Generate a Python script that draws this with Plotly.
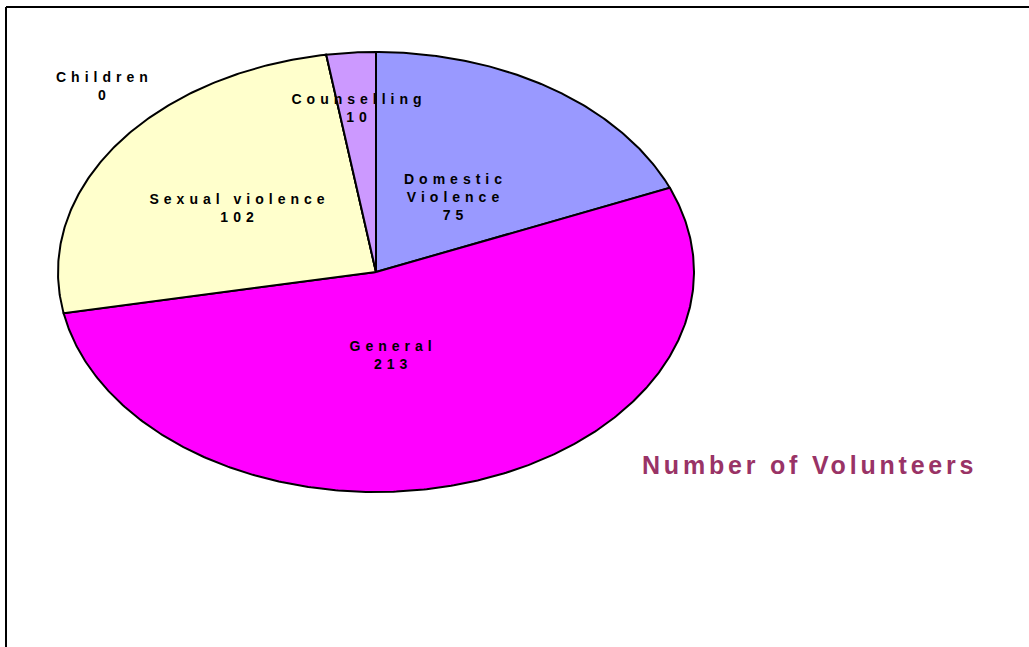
import numpy as np
import plotly.graph_objects as go

# ---- data ----
categories = ["Domestic Violence", "General", "Sexual violence", "Children", "Counselling"]
label_text = ["Domestic<br>Violence", "General", "Sexual violence", "Children", "Counselling"]
values = [75, 213, 102, 0, 10]
colors = ["#9999FF", "#FF00FF", "#FFFFCC", "#99CCFF", "#CC99FF"]
title_text = "Number of Volunteers"

# ---- layout constants (pixels) ----
W, H = 1029, 647
CX, CY = 376, 272      # pie centre
RX, RY = 318, 220      # pie radii (stretched pie)
# label anchor positions in unit-pie coordinates (x right, y up)
label_pos = [(0.25, 0.34), (0.055, -0.375), (-0.43, 0.29), (-0.855, 0.845), (-0.055, 0.745)]

fig = go.Figure()

total = sum(values)
start = 0.0
for name, v, c in zip(categories, values, colors):
    frac = v / total
    ang = np.linspace(start, start + frac, max(3, int(frac * 720) + 2)) * 2 * np.pi
    xs = np.concatenate([[0], np.sin(ang), [0]])
    ys = np.concatenate([[0], np.cos(ang), [0]])
    fig.add_trace(go.Scatter(
        x=xs, y=ys, mode="lines", fill="toself", fillcolor=c,
        line=dict(color="black", width=2), name=name, hoverinfo="name",
        showlegend=False))
    start += frac

for (lx, ly), t, v in zip(label_pos, label_text, values):
    fig.add_annotation(x=lx, y=ly, xref="x", yref="y",
                       text=f"{t}<br>{v}", showarrow=False,
                       font=dict(family="Liberation Sans, Arial", size=14, color="black", weight="bold"),
                       align="center", xanchor="center", yanchor="middle")

fig.add_annotation(x=809 / W, y=1 - 465 / H, xref="paper", yref="paper",
                   text=title_text, showarrow=False, xanchor="center", yanchor="middle",
                   font=dict(family="Liberation Sans, Arial", size=25, color="#993366", weight="bold"))

# frame lines (top and left)
fig.add_shape(type="line", xref="paper", yref="paper", x0=6 / W, x1=1, y0=1 - 7 / H, y1=1 - 7 / H,
              line=dict(color="black", width=2))
fig.add_shape(type="line", xref="paper", yref="paper", x0=6 / W, x1=6 / W, y0=0, y1=1 - 7 / H,
              line=dict(color="black", width=2))

fig.update_layout(
    width=W, height=H, autosize=False,
    margin=dict(l=0, r=0, t=0, b=0),
    paper_bgcolor="white", plot_bgcolor="white",
    xaxis=dict(range=[-CX / RX, (W - CX) / RX], visible=False, fixedrange=True),
    yaxis=dict(range=[-(H - CY) / RY, CY / RY], visible=False, fixedrange=True),
)

post = """
var s = document.createElement('style');
s.textContent = 'body{margin:0 !important;overflow:hidden;} '
  + 'g.annotation text{letter-spacing:5px;} '
  + 'g.annotation[data-index="5"] text{letter-spacing:3.8px;}';
document.head.appendChild(s);
"""

fig.write_html("out.html", post_script=post, config={"displayModeBar": False})
